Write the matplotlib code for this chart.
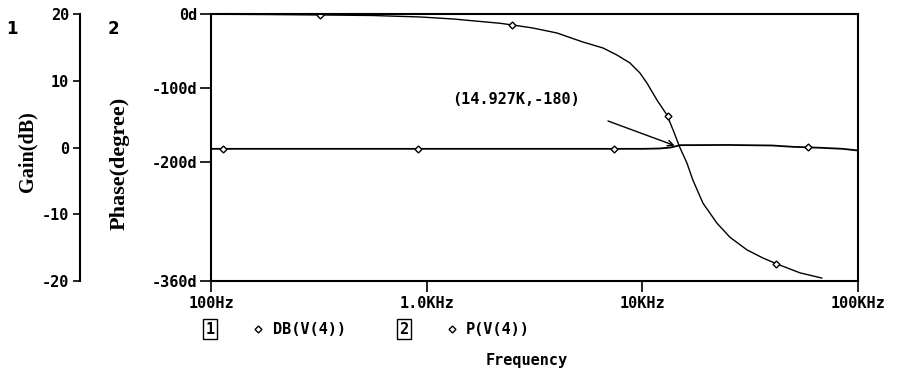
import matplotlib.pyplot as plt
from matplotlib.lines import Line2D
from matplotlib.ticker import NullLocator

# Phase of V(4), degrees
freq_phase = [100, 184, 320, 558, 931, 1324, 2188, 2500, 3110, 4018, 5305, 6567,
              7625, 8760, 9745, 10500, 11690, 13000, 13870, 14927, 16100, 17160,
              19100, 22180, 25480, 30550, 36240, 42070, 53800, 67900]
phase_deg = [-0.3, -0.7, -1.3, -2, -4, -6.7, -12.5, -14.8, -18.9, -25.6, -37.8, -45.8,
             -55.3, -66, -79.5, -93, -116, -136, -156, -180, -201, -224,
             -255, -282, -301, -318, -329, -337, -349, -356]
phase_mark_f = [320, 2490, 13140, 41700]
phase_mark_v = [-1.3, -14.8, -138, -337]

# Gain of V(4), dB
freq_gain = [100, 1000, 10000, 12000, 13500, 15000, 25000, 40000, 50000, 68000, 85000, 100000]
gain_db = [-0.2, -0.2, -0.2, -0.15, 0.0, 0.35, 0.38, 0.3, 0.1, -0.05, -0.2, -0.45]
gain_mark_f = [114, 910, 7360, 58600]
gain_mark_v = [-0.2, -0.2, -0.2, 0.05]

x_ticks = [100, 1000, 10000, 100000]
x_labels = ["100Hz", "1.0KHz", "10KHz", "100KHz"]
phase_ticks = [0, -100, -200, -360]
phase_labels = ["0d", "-100d", "-200d", "-360d"]
gain_ticks = [20, 10, 0, -10, -20]
gain_labels = ["20", "10", "0", "-10", "-20"]

plt.rcParams['font.family'] = 'DejaVu Sans Mono'
plt.rcParams['font.weight'] = 'bold'

W, H = 902, 378
fig = plt.figure(figsize=(W / 100, H / 100), dpi=100)
ax = fig.add_axes([211 / W, 1 - 281 / H, (858 - 211) / W, (281 - 14) / H])

# phase trace
ax.plot(freq_phase, phase_deg, color='black', lw=1)
ax.plot(phase_mark_f, phase_mark_v, ls='none', marker='D', ms=3.5,
        mfc='white', mec='black', mew=1)
ax.set_xscale('log')
ax.set_xlim(100, 100000)
ax.set_ylim(-360, 0)
ax.set_xticks(x_ticks)
ax.set_xticklabels(x_labels)
ax.xaxis.set_minor_locator(NullLocator())
ax.set_yticks(phase_ticks)
ax.set_yticklabels(phase_labels)
ax.tick_params(axis='y', direction='out', length=8, width=1.2, pad=2, labelsize=11)
ax.tick_params(axis='x', direction='out', length=8, width=1.2, pad=3, labelsize=11)
for s in ax.spines.values():
    s.set_linewidth(1.5)

# gain trace on its own axis further left
axg = ax.twinx()
axg.set_ylim(-20, 20)
axg.plot(freq_gain, gain_db, color='black', lw=1.3)
axg.plot(gain_mark_f, gain_mark_v, ls='none', marker='D', ms=3.5,
         mfc='white', mec='black', mew=1)
axg.spines['left'].set_position(('axes', -(211 - 80) / (858 - 211)))
axg.spines['left'].set_visible(True)
axg.spines['left'].set_linewidth(1.5)
for k in ['right', 'top', 'bottom']:
    axg.spines[k].set_visible(False)
axg.yaxis.set_ticks_position('left')
axg.set_yticks(gain_ticks)
axg.set_yticklabels(gain_labels)
axg.tick_params(axis='y', direction='out', length=5, width=1.2, pad=3, labelsize=11)

# axis titles
fig.text(27 / W, 1 - 152 / H, "Gain(dB)", rotation=90, ha='center', va='center',
         family='Liberation Serif', weight='bold', size=14.5)
fig.text(120 / W, 1 - 163 / H, "Phase(degree)", rotation=90, ha='center', va='center',
         family='Liberation Serif', weight='bold', size=16)
fig.text(12 / W, 1 - 29 / H, "1", ha='center', va='center', family='DejaVu Sans', size=12)
fig.text(113 / W, 1 - 29 / H, "2", ha='center', va='center', family='DejaVu Sans', size=12)
fig.text(527 / W, 1 - 361 / H, "Frequency", ha='center', va='center', size=11)

# cursor annotation
fig.text(516 / W, 1 - 100 / H, "(14.927K,-180)", ha='center', va='center', size=11)
axg.annotate("", xy=(14927, 0), xytext=(608, H - 121), textcoords='figure pixels',
             arrowprops=dict(arrowstyle='->', color='black', lw=1, shrinkA=0, shrinkB=4))

# legend
box = dict(boxstyle='square,pad=0.15', fc='white', ec='black', lw=1)
fig.text(210 / W, 1 - 329 / H, "1", ha='center', va='center', size=11, bbox=box)
fig.text(404 / W, 1 - 329 / H, "2", ha='center', va='center', size=11, bbox=box)
for xm in [258, 452]:
    fig.add_artist(Line2D([xm / W], [1 - 329 / H], marker='D', ms=3.5, mfc='white',
                          mec='black', mew=1, transform=fig.transFigure))
fig.text(273 / W, 1 - 329 / H, "DB(V(4))", ha='left', va='center', size=11)
fig.text(466 / W, 1 - 329 / H, "P(V(4))", ha='left', va='center', size=11)

fig.savefig("out.png", dpi=100)
